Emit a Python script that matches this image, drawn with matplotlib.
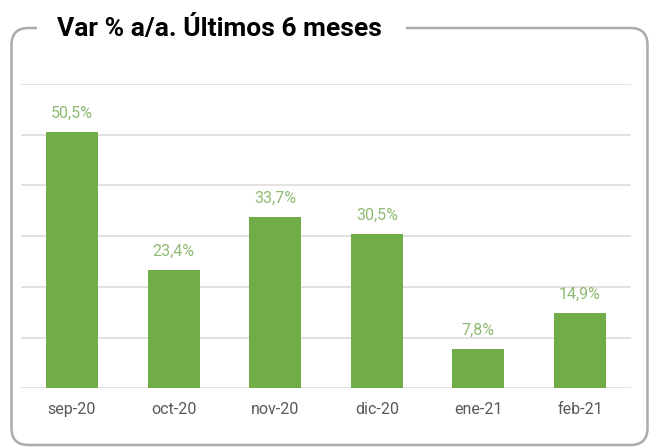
import matplotlib
matplotlib.use("Agg")
import matplotlib.pyplot as plt
from matplotlib.patches import FancyBboxPatch, Rectangle

plt.rcParams['font.family'] = ['Roboto', 'DejaVu Sans']

months = ['sep-20', 'oct-20', 'nov-20', 'dic-20', 'ene-21', 'feb-21']
var_pct = [50.5, 23.4, 33.7, 30.5, 7.8, 14.9]
title = 'Var % a/a. Últimos 6 meses'

W, H = 650, 448
fig = plt.figure(figsize=(W / 100, H / 100), dpi=100)

# frame with the title breaking the top border (pixel coordinates)
bg = fig.add_axes([0, 0, 1, 1])
bg.set_xlim(0, W)
bg.set_ylim(H, 0)
bg.axis('off')
frame = FancyBboxPatch((11.5, 28), 636, 417, boxstyle="round,pad=0,rounding_size=17",
                       fill=False, edgecolor='#ababab', linewidth=1.8)
bg.add_patch(frame)
bg.add_patch(Rectangle((37, 12), 369, 30, facecolor='white', edgecolor='none', zorder=2))
bg.text(57, 36, title, fontsize=19, fontweight='bold', color='black',
        ha='left', va='baseline', zorder=3)

# chart area
left, right = 21.2 / W, 630.8 / W
bottom, top = (H - 388.3) / H, (H - 84) / H
ax = fig.add_axes([left, bottom, right - left, top - bottom])
x = range(len(months))
bars = ax.bar(x, var_pct, width=0.51, color='#70AD47', zorder=2)
ax.set_xlim(-0.5, len(months) - 0.5)
ax.set_ylim(0, 60)
ax.set_yticks(range(0, 61, 10))
ax.yaxis.grid(True, color='#d9d9d9', linewidth=1.1, zorder=0)
ax.set_yticklabels([])
ax.tick_params(axis='y', length=0)
ax.set_xticks(list(x))
ax.set_xticklabels(months, fontsize=11.5, color='#595959')
ax.tick_params(axis='x', length=0, pad=10)
for s in ax.spines.values():
    s.set_visible(False)

for xi, v in zip(x, var_pct):
    ax.annotate(f"{v:.1f}%".replace('.', ','), (xi, v), xytext=(0, 8),
                textcoords='offset points', ha='center', va='bottom',
                fontsize=11.5, color='#8DBA73')

fig.savefig('out.png', dpi=100)
